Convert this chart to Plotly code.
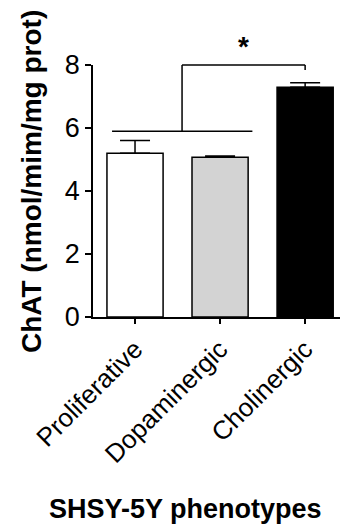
import plotly.graph_objects as go

categories = ["Proliferative", "Dopaminergic", "Cholinergic"]
means = [5.2, 5.07, 7.29]
sem = [0.4, 0.04, 0.15]
bar_colors = ["#ffffff", "#d3d3d3", "#000000"]
y_ticks = [0, 2, 4, 6, 8]

# significance bracket (data units)
group_span = [-0.27, 1.38]
group_level = 5.9
bracket_mid = 0.553
bracket_top = 8.0
bracket_right_end = 7.84
star_x = 1.27
star_y = 8.6

W, H = 340, 527
ML, MR, MT, MB = 93, 0, 65, 210
Y_MAX = 8

fig = go.Figure()
fig.add_trace(go.Bar(
    x=list(range(len(categories))), y=means, width=0.66,
    marker=dict(color=bar_colors, line=dict(color="black", width=1.5)),
    error_y=dict(type="data", symmetric=False, array=sem,
                 arrayminus=[0] * len(sem), color="black", thickness=1.5, width=15),
))

def py(v):
    return v / Y_MAX

line = dict(color="black", width=1.5)
shapes = [
    dict(type="line", xref="x", yref="paper", x0=group_span[0], x1=group_span[1],
         y0=py(group_level), y1=py(group_level), line=line),
    dict(type="line", xref="x", yref="paper", x0=bracket_mid, x1=bracket_mid,
         y0=py(group_level), y1=py(bracket_top), line=line),
    dict(type="line", xref="x", yref="paper", x0=bracket_mid, x1=2,
         y0=py(bracket_top), y1=py(bracket_top), line=line),
    dict(type="line", xref="x", yref="paper", x0=2, x1=2,
         y0=py(bracket_top), y1=py(bracket_right_end), line=line),
]

pw = W - ML - MR
ph = H - MT - MB
FONT = "Liberation Sans"
annotations = [
    dict(text="<b>*</b>", xref="x", yref="paper", x=star_x, y=py(star_y), showarrow=False,
         font=dict(size=28, family=FONT, color="black"), yanchor="middle"),
    dict(text="<b>ChAT (nmol/mim/mg prot)</b>", xref="paper", yref="paper",
         x=(31 - ML) / pw, y=((H - MB) - 182) / ph, textangle=-90, showarrow=False,
         font=dict(size=28, family=FONT, color="black"),
         xanchor="center", yanchor="middle"),
    dict(text="<b>SHSY-5Y phenotypes</b>", xref="paper", yref="paper",
         x=(185 - ML) / pw, y=-(509 - (H - MB)) / ph, showarrow=False,
         font=dict(size=27, family=FONT, color="black"),
         xanchor="center", yanchor="middle"),
]

fig.update_layout(
    width=W, height=H, margin=dict(l=ML, r=MR, t=MT, b=MB),
    paper_bgcolor="white", plot_bgcolor="white", showlegend=False,
    font=dict(family=FONT, color="black"),
    shapes=shapes, annotations=annotations, bargap=0.34,
)
fig.update_xaxes(
    range=[-0.494, 2.41], tickvals=list(range(len(categories))), ticktext=categories,
    tickangle=-45, ticks="outside", ticklen=5, tickwidth=1.5, tickcolor="black",
    showline=True, linecolor="black", linewidth=1.5, showgrid=False, zeroline=False,
    tickfont=dict(size=26, family=FONT, color="black"),
)
fig.update_yaxes(
    range=[0, Y_MAX], tickvals=y_ticks, ticks="outside", ticklen=6, tickwidth=1.5,
    tickcolor="black", showline=True, linecolor="black", linewidth=1.5,
    showgrid=False, zeroline=False,
    tickfont=dict(size=27, family=FONT, color="black"),
)
fig.write_html("out.html")
